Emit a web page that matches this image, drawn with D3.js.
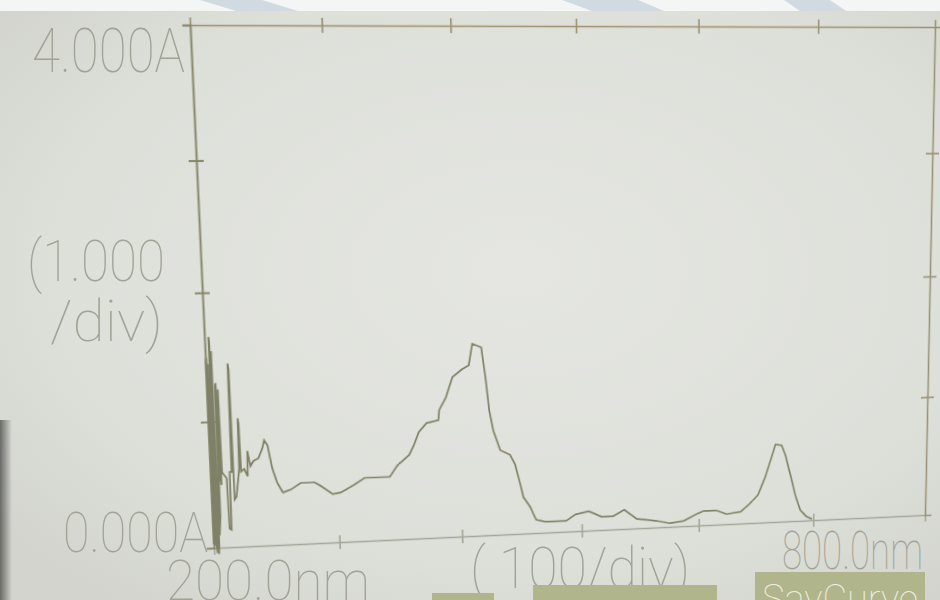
<!DOCTYPE html>
<html><head><meta charset="utf-8">
<script src="https://cdn.jsdelivr.net/npm/d3@7"></script>
<style>
html,body{margin:0;padding:0;width:940px;height:600px;overflow:hidden;background:#dfe0db}
svg{position:absolute;left:0;top:0}
#plot{transform-origin:0 0}
</style></head><body>
<svg id="bg" width="940" height="600"></svg>
<svg id="plot" width="940" height="600"></svg>
<script>
// ---- data ----
const wavelength = [200.0,200.2,200.6,200.9,201.3,201.6,202.0,202.8,203.1,203.5,
  203.8,204.3,204.6,205.0,206.2,206.5,207.0,207.4,208.2,208.5,
  209.0,212.5,213.0,214.5,215.0,216.5,217.0,217.6,218.0,219.5,
  222.5,223.0,223.5,224.0,226.5,229.0,229.5,231.5,234.0,238.0,
  241.5,243.0,245.5,248.5,252,
  256.3,262.7,270.6,281.7,286.5,296,302.4,313.8,
  321.9,342.3,348.8,358.5,362.6,366.7,373.2,382.9,383.7,389.4,
  395.1,403,408.6,411.8,419,422,424.6,427.6,433,441,
  445,449,451.5,456.9,459.5,461.8,469.1,487,495,506,
  517,526.7,536.2,546.6,563.8,575,587,599,604.4,615,
  623.9,636.3,645,651.3,657.5,662.8,666.4,671.7,675.2,679.6,
  684,688.5,693.8,699];
const absorbance = [0.03,1.47,1.50,0.02,0.04,1.45,0.05,-0.04,1.66,1.62,
  -0.05,0.02,1.55,0.10,0.25,1.28,1.30,0.55,0.50,1.25,
  0.60,0.55,0.15,0.14,0.60,0.60,1.45,1.40,0.38,0.40,
  0.62,1.02,0.98,0.60,0.62,0.56,0.76,0.64,0.68,0.70,
  0.78,0.84,0.80,0.62,0.50,
  0.42,0.44,0.49,0.49,0.46,0.39,0.40,0.46,
  0.51,0.51,0.60,0.68,0.76,0.86,0.93,0.95,1.03,1.13,
  1.29,1.35,1.38,1.55,1.52,1.28,1.01,0.85,0.69,0.65,
  0.57,0.41,0.30,0.22,0.16,0.11,0.09,0.09,0.14,0.16,
  0.11,0.11,0.16,0.08,0.055,0.03,0.045,0.10,0.12,0.12,
  0.085,0.10,0.17,0.235,0.38,0.54,0.65,0.64,0.555,0.39,
  0.22,0.09,0.036,0.01];
const xDomain = [200, 800];
const yDomain = [0, 4];
const xTickValues = [300, 400, 500, 600, 700];
const yTickValues = [1, 2, 3];
const yLabels = ["4.000A", "(1.000", "/div)", "0.000A"];
const xLabels = ["200.0nm", "( 100/div)", "800.0nm"];
const buttonLabels = ["", "", "SavCurve"];

const points = wavelength.map((w, i) => ({nm: w, a: absorbance[i]}));

// ---- background (photo of LCD) ----
const bg = d3.select("#bg");
const defs = bg.append("defs");
const rg = defs.append("radialGradient").attr("id","scr").attr("cx","55%").attr("cy","45%").attr("r","70%");
rg.append("stop").attr("offset","0%").attr("stop-color","#e5e6e1");
rg.append("stop").attr("offset","70%").attr("stop-color","#dddfd9");
rg.append("stop").attr("offset","100%").attr("stop-color","#d2d4cd");
bg.append("rect").attr("width",940).attr("height",600).attr("fill","url(#scr)");
bg.append("rect").attr("x",0).attr("y",0).attr("width",940).attr("height",11).attr("fill","#f4f6f6");
const wm = [
  [[200,0],[262,0],[298,11],[236,11]],
  [[562,0],[638,0],[664,11],[592,11]],
  [[784,0],[830,0],[846,11],[800,11]]
];
bg.selectAll("polygon.wm").data(wm).join("polygon").attr("class","wm")
  .attr("points", d => d.map(p => p.join(",")).join(" "))
  .attr("fill","#d0dae0");
const lg = defs.append("linearGradient").attr("id","edge").attr("x1","0").attr("x2","1");
lg.append("stop").attr("offset","0").attr("stop-color","#6a6b66");
lg.append("stop").attr("offset","1").attr("stop-color","#6a6b66").attr("stop-opacity",0);
bg.append("rect").attr("x",0).attr("y",420).attr("width",12).attr("height",180).attr("fill","url(#edge)");

// labels
const labelColor = "#a2a396";
const labelSpecs = [
  {t: yLabels[0], x: 32, y: 72, w: 153, fs: 62},
  {t: yLabels[1], x: 27, y: 281, w: 138, fs: 58},
  {t: yLabels[2], x: 50, y: 341, w: 113, fs: 58},
  {t: yLabels[3], x: 63, y: 552, w: 145, fs: 56},
  {t: xLabels[0], x: 166, y: 600, w: 204, fs: 56},
  {t: xLabels[1], x: 470, y: 588, w: 220, fs: 58},
  {t: xLabels[2], x: 782, y: 569, w: 141, fs: 54}
];
bg.selectAll("text.lab").data(labelSpecs).join("text").attr("class","lab")
  .attr("x", d => d.x).attr("y", d => d.y)
  .attr("textLength", d => d.w).attr("lengthAdjust","spacingAndGlyphs")
  .style("font-family","Roboto, 'DejaVu Sans', sans-serif").style("font-weight",100)
  .style("font-size", d => d.fs + "px").attr("fill", labelColor)
  .text(d => d.t);

// buttons
const btns = [
  {x: 432, y: 593, w: 62, h: 10},
  {x: 533, y: 585, w: 184, h: 20},
  {x: 755, y: 572, w: 170, h: 30}
];
bg.selectAll("rect.btn").data(btns).join("rect").attr("class","btn")
  .attr("x", d => d.x).attr("y", d => d.y).attr("width", d => d.w).attr("height", d => d.h)
  .attr("fill","#b1b58b");
bg.append("text").attr("x", 762).attr("y", 612).attr("textLength",156).attr("lengthAdjust","spacingAndGlyphs")
  .style("font-family","Roboto, sans-serif").style("font-weight",100).style("font-size","38px")
  .attr("fill","#eef0e2").text(buttonLabels[2]);

// ---- plot in flat (local) space ----
const L = {left: 200, right: 930, top: 26, bottom: 532};
const x = d3.scaleLinear().domain(xDomain).range([L.left, L.right]);
const y = d3.scaleLinear().domain(yDomain).range([L.bottom, L.top]);
const svg = d3.select("#plot");

function styleAxis(g, color, w, horiz){
  g.select(".domain").attr("stroke", color).attr("stroke-width", w);
  g.selectAll(".tick line").attr("stroke", color).attr("stroke-width", w);
  if (horiz) g.selectAll(".tick line").attr("y1", -7).attr("y2", 7);
  else g.selectAll(".tick line").attr("x1", -7).attr("x2", 7);
  g.selectAll(".tick text").remove();
}
const gB = svg.append("g").attr("transform", `translate(0,${L.bottom})`)
  .call(d3.axisBottom(x).tickValues(xTickValues).tickSizeOuter(0).tickSize(7).tickFormat(""));
styleAxis(gB, "#a3a598", 1.6, true);
const gT = svg.append("g").attr("transform", `translate(0,${L.top})`)
  .call(d3.axisTop(x).tickValues(xTickValues).tickSizeOuter(0).tickSize(7).tickFormat(""));
styleAxis(gT, "#9e9371", 1.6, true);
const gL = svg.append("g").attr("transform", `translate(${L.left},0)`)
  .call(d3.axisLeft(y).tickValues(yTickValues).tickSizeOuter(0).tickSize(7).tickFormat(""));
styleAxis(gL, "#86876a", 1.9, false);
const gR = svg.append("g").attr("transform", `translate(${L.right},0)`)
  .call(d3.axisRight(y).tickValues(yTickValues).tickSizeOuter(0).tickSize(7).tickFormat(""));
styleAxis(gR, "#9a8f70", 1.6, false);

const line = d3.line().x(d => x(d.nm)).y(d => y(d.a));
svg.append("path").datum(points).attr("d", line)
  .attr("fill","none").attr("stroke","#7f8166").attr("stroke-width",1.7)
  .attr("stroke-linejoin","miter");

// ---- perspective of the photograph (homography via CSS matrix3d) ----
function homography(src, dst){
  const A = [], B = [];
  for (let i = 0; i < 4; i++){
    const [sx, sy] = src[i], [u, v] = dst[i];
    A.push([sx, sy, 1, 0, 0, 0, -sx*u, -sy*u]); B.push(u);
    A.push([0, 0, 0, sx, sy, 1, -sx*v, -sy*v]); B.push(v);
  }
  const n = 8;
  for (let i = 0; i < n; i++){
    let p = i;
    for (let r = i+1; r < n; r++) if (Math.abs(A[r][i]) > Math.abs(A[p][i])) p = r;
    [A[i], A[p]] = [A[p], A[i]]; [B[i], B[p]] = [B[p], B[i]];
    for (let r = 0; r < n; r++){
      if (r === i) continue;
      const f = A[r][i] / A[i][i];
      for (let c = i; c < n; c++) A[r][c] -= f * A[i][c];
      B[r] -= f * B[i];
    }
  }
  return B.map((b, i) => b / A[i][i]);
}
const src = [[L.left,L.top],[L.right,L.top],[L.right,L.bottom],[L.left,L.bottom]];
const dst = [[190,25],[935,27],[925,515],[214,548]];
const h = homography(src, dst);
document.getElementById("plot").style.transform =
  `matrix3d(${h[0]},${h[3]},0,${h[6]},${h[1]},${h[4]},0,${h[7]},0,0,1,0,${h[2]},${h[5]},0,1)`;
</script>
</body></html>
